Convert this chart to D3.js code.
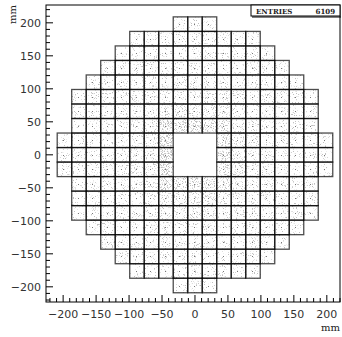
<!DOCTYPE html>
<html>
<head>
<meta charset="utf-8">
<script src="https://cdn.jsdelivr.net/npm/d3@7"></script>
<style>
  body { margin: 0; background: #fff; }
  svg { display: block; }
  .tick-label { font-family: "DejaVu Sans", sans-serif; font-size: 11px; fill: #333; }
  .unit { font-family: "DejaVu Serif", serif; font-size: 10px; fill: #222; }
  .stats { font-family: "DejaVu Serif", serif; font-size: 7px; font-weight: bold; fill: #222; }
</style>
</head>
<body>
<div id="chart"></div>
<script>
// crystal size (mm) and number of crystals per row, top row first
const cellSize = 22
const rowHalfWidth = [1, 4, 5, 6, 7, 8, 8, 8, 9, 9, 9, 8, 8, 8, 7, 6, 5, 4, 1]
const entries = 6109

// estimated hits per crystal, top row first, left to right (null = beam hole)
const hits = [
  [18, 20, 17],
  [15, 18, 20, 21, 22, 21, 20, 18, 15],
  [16, 19, 21, 22, 23, 24, 23, 22, 21, 19, 16],
  [17, 20, 22, 23, 25, 27, 28, 27, 25, 23, 22, 20, 17],
  [17, 19, 22, 24, 26, 28, 30, 31, 30, 28, 26, 24, 22, 19, 17],
  [17, 19, 21, 24, 26, 29, 32, 34, 35, 34, 32, 29, 26, 24, 21, 19, 17],
  [18, 20, 22, 25, 28, 31, 38, 42, 44, 42, 38, 31, 28, 25, 22, 20, 18],
  [18, 20, 23, 26, 30, 38, 72, 62, 60, 62, 55, 36, 30, 26, 23, 20, 18],
  [16, 18, 20, 23, 26, 30, 40, 80, null, null, null, 58, 38, 30, 26, 23, 20, 18, 16],
  [16, 18, 20, 23, 27, 31, 42, 85, null, null, null, 62, 40, 31, 27, 23, 20, 18, 16],
  [16, 18, 20, 23, 26, 30, 40, 78, null, null, null, 58, 38, 30, 26, 23, 20, 18, 16],
  [18, 20, 23, 26, 30, 38, 70, 64, 62, 60, 55, 36, 30, 26, 23, 20, 18],
  [18, 20, 22, 25, 28, 31, 38, 42, 44, 42, 38, 31, 28, 25, 22, 20, 18],
  [17, 19, 21, 24, 26, 29, 32, 34, 35, 34, 32, 29, 26, 24, 21, 19, 17],
  [17, 19, 22, 24, 26, 28, 30, 31, 30, 28, 26, 24, 22, 19, 17],
  [17, 20, 22, 23, 25, 27, 28, 27, 25, 23, 22, 20, 17],
  [16, 19, 21, 22, 23, 24, 23, 22, 21, 19, 16],
  [15, 18, 20, 21, 22, 21, 20, 18, 15],
  [18, 20, 17]
]

const xTicks = [-200, -150, -100, -50, 0, 50, 100, 150, 200]
const yTicks = [-200, -150, -100, -50, 0, 50, 100, 150, 200]

const width = 342
const height = 337

const svg = d3.select('#chart').append('svg')
  .attr('width', width)
  .attr('height', height)

const x = d3.scaleLinear().domain([-226, 220]).range([46, 340])
const y = d3.scaleLinear().domain([-223, 227]).range([302, 5])

// speckle texture: more dots where the cell is denser
const defs = svg.append('defs')
const speck = defs.append('filter')
  .attr('id', 'speck')
  .attr('filterUnits', 'userSpaceOnUse')
  .attr('x', 0).attr('y', 0).attr('width', width).attr('height', height)
  .attr('color-interpolation-filters', 'sRGB')
speck.append('feTurbulence')
  .attr('type', 'fractalNoise')
  .attr('baseFrequency', 0.9)
  .attr('numOctaves', 2)
  .attr('seed', 7)
  .attr('result', 'noise')
speck.append('feColorMatrix')
  .attr('in', 'noise')
  .attr('type', 'matrix')
  .attr('values', '0 0 0 0 0  0 0 0 0 0  0 0 0 0 0  1 0 0 0 0')
  .attr('result', 'noiseA')
speck.append('feComposite')
  .attr('in', 'noiseA')
  .attr('in2', 'SourceGraphic')
  .attr('operator', 'arithmetic')
  .attr('k1', 0).attr('k2', 8).attr('k3', 10.7).attr('k4', -5.2)
  .attr('result', 'dots')
speck.append('feColorMatrix')
  .attr('in', 'SourceGraphic')
  .attr('type', 'matrix')
  .attr('values', '0 0 0 0 0  0 0 0 0 0  0 0 0 0 0  0 0 0 200 0')
  .attr('result', 'shape')
speck.append('feComposite')
  .attr('in', 'dots')
  .attr('in2', 'shape')
  .attr('operator', 'in')
  .attr('result', 'clipped')
const ct = speck.append('feComponentTransfer').attr('in', 'clipped')
ct.append('feFuncA').attr('type', 'linear').attr('slope', 0.25)

// flatten the crystal table
const cells = []
const nRows = rowHalfWidth.length
rowHalfWidth.forEach((h, r) => {
  const j = (nRows - 1) / 2 - r
  for (let i = -h; i <= h; i++) {
    const n = hits[r][i + h]
    if (n === null) continue
    cells.push({ i: i, j: j, n: n })
  }
})

const maxHits = 700
const cellW = x(cellSize) - x(0)
const cellH = y(0) - y(cellSize)

const g = svg.append('g')

// hit density
g.append('g')
  .attr('filter', 'url(#speck)')
  .selectAll('rect')
  .data(cells)
  .enter().append('rect')
  .attr('x', d => x(d.i * cellSize - cellSize / 2))
  .attr('y', d => y(d.j * cellSize + cellSize / 2))
  .attr('width', cellW)
  .attr('height', cellH)
  .attr('fill', '#000')
  .attr('fill-opacity', d => d.n / maxHits)

// crystal centres collect the most hits
g.selectAll('rect.centre')
  .data(cells)
  .enter().append('rect')
  .attr('class', 'centre')
  .attr('x', d => Math.round(x(d.i * cellSize)) - 1)
  .attr('y', d => Math.round(y(d.j * cellSize)))
  .attr('width', 1)
  .attr('height', 1)
  .attr('fill', '#777')

// crystal outlines
g.selectAll('rect.box')
  .data(cells)
  .enter().append('rect')
  .attr('class', 'box')
  .attr('x', d => x(d.i * cellSize - cellSize / 2))
  .attr('y', d => y(d.j * cellSize + cellSize / 2))
  .attr('width', cellW)
  .attr('height', cellH)
  .attr('fill', 'none')
  .attr('stroke', '#000')
  .attr('stroke-opacity', 0.7)
  .attr('stroke-width', 1.3)

// frame
svg.append('rect')
  .attr('x', x.range()[0])
  .attr('y', y.range()[1])
  .attr('width', x.range()[1] - x.range()[0])
  .attr('height', y.range()[0] - y.range()[1])
  .attr('fill', 'none')
  .attr('stroke', '#000')
  .attr('stroke-width', 1)

// axes with inward ticks
const xMinor = d3.range(-220, 221, 10)
const yMinor = d3.range(-220, 221, 10)

const xAxis = svg.append('g').attr('transform', `translate(0,${y.range()[0]})`)
xAxis.selectAll('line')
  .data(xMinor)
  .enter().append('line')
  .attr('x1', d => x(d)).attr('x2', d => x(d))
  .attr('y1', 0).attr('y2', d => xTicks.includes(d) ? -7 : -4)
  .attr('stroke', '#000')
xAxis.selectAll('text')
  .data(xTicks)
  .enter().append('text')
  .attr('class', 'tick-label')
  .attr('x', d => x(d))
  .attr('y', 16)
  .attr('text-anchor', 'middle')
  .text(d => String(d).replace('-', '\u2212'))

const yAxis = svg.append('g').attr('transform', `translate(${x.range()[0]},0)`)
yAxis.selectAll('line')
  .data(yMinor)
  .enter().append('line')
  .attr('y1', d => y(d)).attr('y2', d => y(d))
  .attr('x1', 0).attr('x2', d => yTicks.includes(d) ? 7 : 4)
  .attr('stroke', '#000')
yAxis.selectAll('text')
  .data(yTicks)
  .enter().append('text')
  .attr('class', 'tick-label')
  .attr('x', -5)
  .attr('y', d => y(d) + 4)
  .attr('text-anchor', 'end')
  .text(d => String(d).replace('-', '\u2212'))

// axis titles
svg.append('text')
  .attr('class', 'unit')
  .attr('x', x.range()[1])
  .attr('y', 331)
  .attr('text-anchor', 'end')
  .text('mm')

svg.append('text')
  .attr('class', 'unit')
  .attr('transform', `translate(16,${y.range()[1]}) rotate(-90)`)
  .attr('text-anchor', 'end')
  .text('mm')

// statistics box
const stats = svg.append('g')
stats.append('rect')
  .attr('x', 251).attr('y', 5)
  .attr('width', 89).attr('height', 11)
  .attr('fill', '#fff')
  .attr('stroke', '#000')
stats.append('line')
  .attr('x1', 252).attr('x2', 341)
  .attr('y1', 17).attr('y2', 17)
  .attr('stroke', '#000')
stats.append('text')
  .attr('class', 'stats')
  .attr('x', 256).attr('y', 13.5)
  .text('ENTRIES')
stats.append('text')
  .attr('class', 'stats')
  .attr('x', 335).attr('y', 13.5)
  .attr('text-anchor', 'end')
  .text(entries)
</script>
</body>
</html>
